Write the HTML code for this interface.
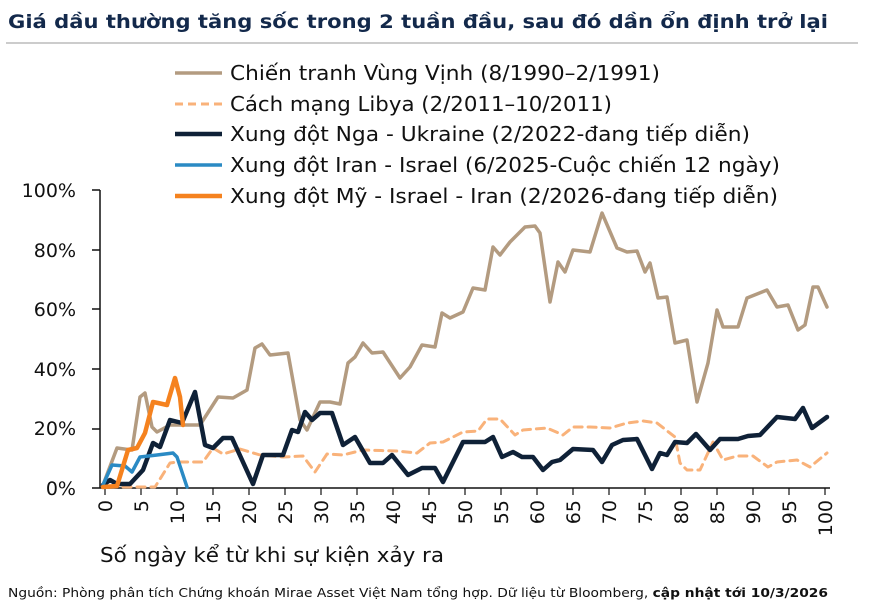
<!DOCTYPE html>
<html><head><meta charset="utf-8"><style>
body{margin:0;background:#fff;width:873px;height:606px;overflow:hidden;font-family:"DejaVu Sans","Liberation Sans",sans-serif}
</style></head><body>
<svg width="873" height="606" viewBox="0 0 873 606" xmlns="http://www.w3.org/2000/svg" font-family="'DejaVu Sans','Liberation Sans',sans-serif">
<text x="8" y="28" font-size="19" font-weight="bold" fill="#13294b" textLength="820" lengthAdjust="spacingAndGlyphs">Giá dầu thường tăng sốc trong 2 tuần đầu, sau đó dần ổn định trở lại</text>
<line x1="6" y1="43" x2="858" y2="43" stroke="#bbb" stroke-width="1.5"/>
<g font-size="20" fill="#111">
<line x1="175" y1="73" x2="222" y2="73" stroke="#b39b80" stroke-width="3.5"/><text x="230" y="80" textLength="430" lengthAdjust="spacingAndGlyphs">Chiến tranh Vùng Vịnh (8/1990–2/1991)</text>
<line x1="175" y1="104" x2="222" y2="104" stroke="#f9b27a" stroke-width="3" stroke-dasharray="8,5"/><text x="230" y="111" textLength="382" lengthAdjust="spacingAndGlyphs">Cách mạng Libya (2/2011–10/2011)</text>
<line x1="175" y1="134" x2="222" y2="134" stroke="#0f2137" stroke-width="4.5"/><text x="230" y="141" textLength="520" lengthAdjust="spacingAndGlyphs">Xung đột Nga - Ukraine (2/2022-đang tiếp diễn)</text>
<line x1="175" y1="165" x2="222" y2="165" stroke="#2a8ac4" stroke-width="3.5"/><text x="230" y="172" textLength="550" lengthAdjust="spacingAndGlyphs">Xung đột Iran - Israel (6/2025-Cuộc chiến 12 ngày)</text>
<line x1="175" y1="196" x2="222" y2="196" stroke="#f5821f" stroke-width="4.5"/><text x="230" y="203" textLength="548" lengthAdjust="spacingAndGlyphs">Xung đột Mỹ - Israel - Iran (2/2026-đang tiếp diễn)</text>
</g>
<g font-size="19" fill="#111" text-anchor="end">
<text x="76" y="197">100%</text><text x="76" y="257">80%</text><text x="76" y="316">60%</text><text x="76" y="376">40%</text><text x="76" y="435">20%</text><text x="76" y="495">0%</text>
</g>
<g stroke="#111" stroke-width="1.5">
<line x1="100" y1="190" x2="100" y2="488"/>
<line x1="100" y1="488" x2="830" y2="488"/>
<line x1="92" y1="190" x2="100" y2="190"/><line x1="92" y1="250" x2="100" y2="250"/><line x1="92" y1="309" x2="100" y2="309"/><line x1="92" y1="369" x2="100" y2="369"/><line x1="92" y1="429" x2="100" y2="429"/><line x1="92" y1="488" x2="100" y2="488"/>
</g>
<g stroke="#111" stroke-width="1.2" id="xt"></g>
<g font-size="19" fill="#111" id="xl"></g>
<script>
var g=document.getElementById('xt'),l=document.getElementById('xl'),ns='http://www.w3.org/2000/svg';
for(var i=0;i<=20;i++){var x=105+i*36;var t=document.createElementNS(ns,'line');t.setAttribute('x1',x);t.setAttribute('x2',x);t.setAttribute('y1',488);t.setAttribute('y2',495);g.appendChild(t);
var s=document.createElementNS(ns,'text');s.setAttribute('transform','translate('+(x+7)+',500) rotate(-90)');s.setAttribute('text-anchor','end');s.textContent=i*5;l.appendChild(s);}
</script>
<g fill="none" stroke-linejoin="round" stroke-linecap="round">
<polyline stroke="#f9b27a" stroke-width="3" stroke-dasharray="8,6" points="123,487 155,487 170,463 177,462 203,462 213,448 223,454 240,449 260,455 283,457 303,456 315,472 327,454 343,455 363,450 397,451 417,453 430,443 443,442 463,432 478,431 487,419 500,419 515,435 523,430 547,428 563,435 573,427 590,427 610,428 627,423 643,421 657,423 675,437 680,463 687,470 700,470 713,442 723,460 737,456 753,456 768,467 777,462 797,460 810,467 827,453"/>
<polyline stroke="#b39b80" stroke-width="3.5" points="103,485 117,448 132,450 140,397 145,393 152,427 157,432 170,425 200,425 218,397 233,398 247,390 255,348 262,344 270,355 288,353 300,420 307,430 320,402 330,402 340,404 348,363 355,357 363,343 372,353 383,352 400,378 410,367 422,345 435,347 442,313 450,318 463,312 473,288 485,290 493,247 500,255 510,242 525,227 535,226 540,233 550,302 558,262 565,272 573,250 590,252 602,213 617,248 627,252 637,251 645,272 650,263 658,298 667,297 675,343 687,340 697,402 708,363 717,310 723,327 738,327 747,298 767,290 777,307 788,305 798,330 805,325 813,287 818,287 827,307"/>
<polyline stroke="#0f2137" stroke-width="4.5" points="103,485 110,480 117,484 130,484 143,470 153,443 160,447 170,420 182,423 195,392 205,445 213,448 223,438 232,438 253,484 263,455 283,455 292,430 298,432 305,412 312,420 320,413 332,413 343,445 355,437 370,463 383,463 392,455 408,475 422,468 435,468 443,482 463,442 485,442 493,437 502,457 513,452 522,457 533,457 543,470 552,462 560,460 573,449 593,450 602,462 612,445 623,440 637,439 652,469 660,453 667,455 675,442 687,443 696,434 710,450 720,439 738,439 748,436 760,435 777,417 795,419 803,408 812,428 827,417"/>
<polyline stroke="#2a8ac4" stroke-width="3.5" points="103,485 112,465 125,466 132,472 140,457 157,455 173,453 177,457 187,487"/>
<polyline stroke="#f5821f" stroke-width="4.5" points="103,487 117,486 128,450 137,448 145,433 153,402 158,403 167,405 175,378 180,397 183,425"/>
</g>
<text x="100" y="562" font-size="20" fill="#111" textLength="344" lengthAdjust="spacingAndGlyphs">Số ngày kể từ khi sự kiện xảy ra</text>
<text x="8" y="597" font-size="12.5" fill="#111" textLength="820" lengthAdjust="spacingAndGlyphs">Nguồn: Phòng phân tích Chứng khoán Mirae Asset Việt Nam tổng hợp. Dữ liệu từ Bloomberg, <tspan font-weight="bold">cập nhật tới 10/3/2026</tspan></text>
</svg>
</body></html>
